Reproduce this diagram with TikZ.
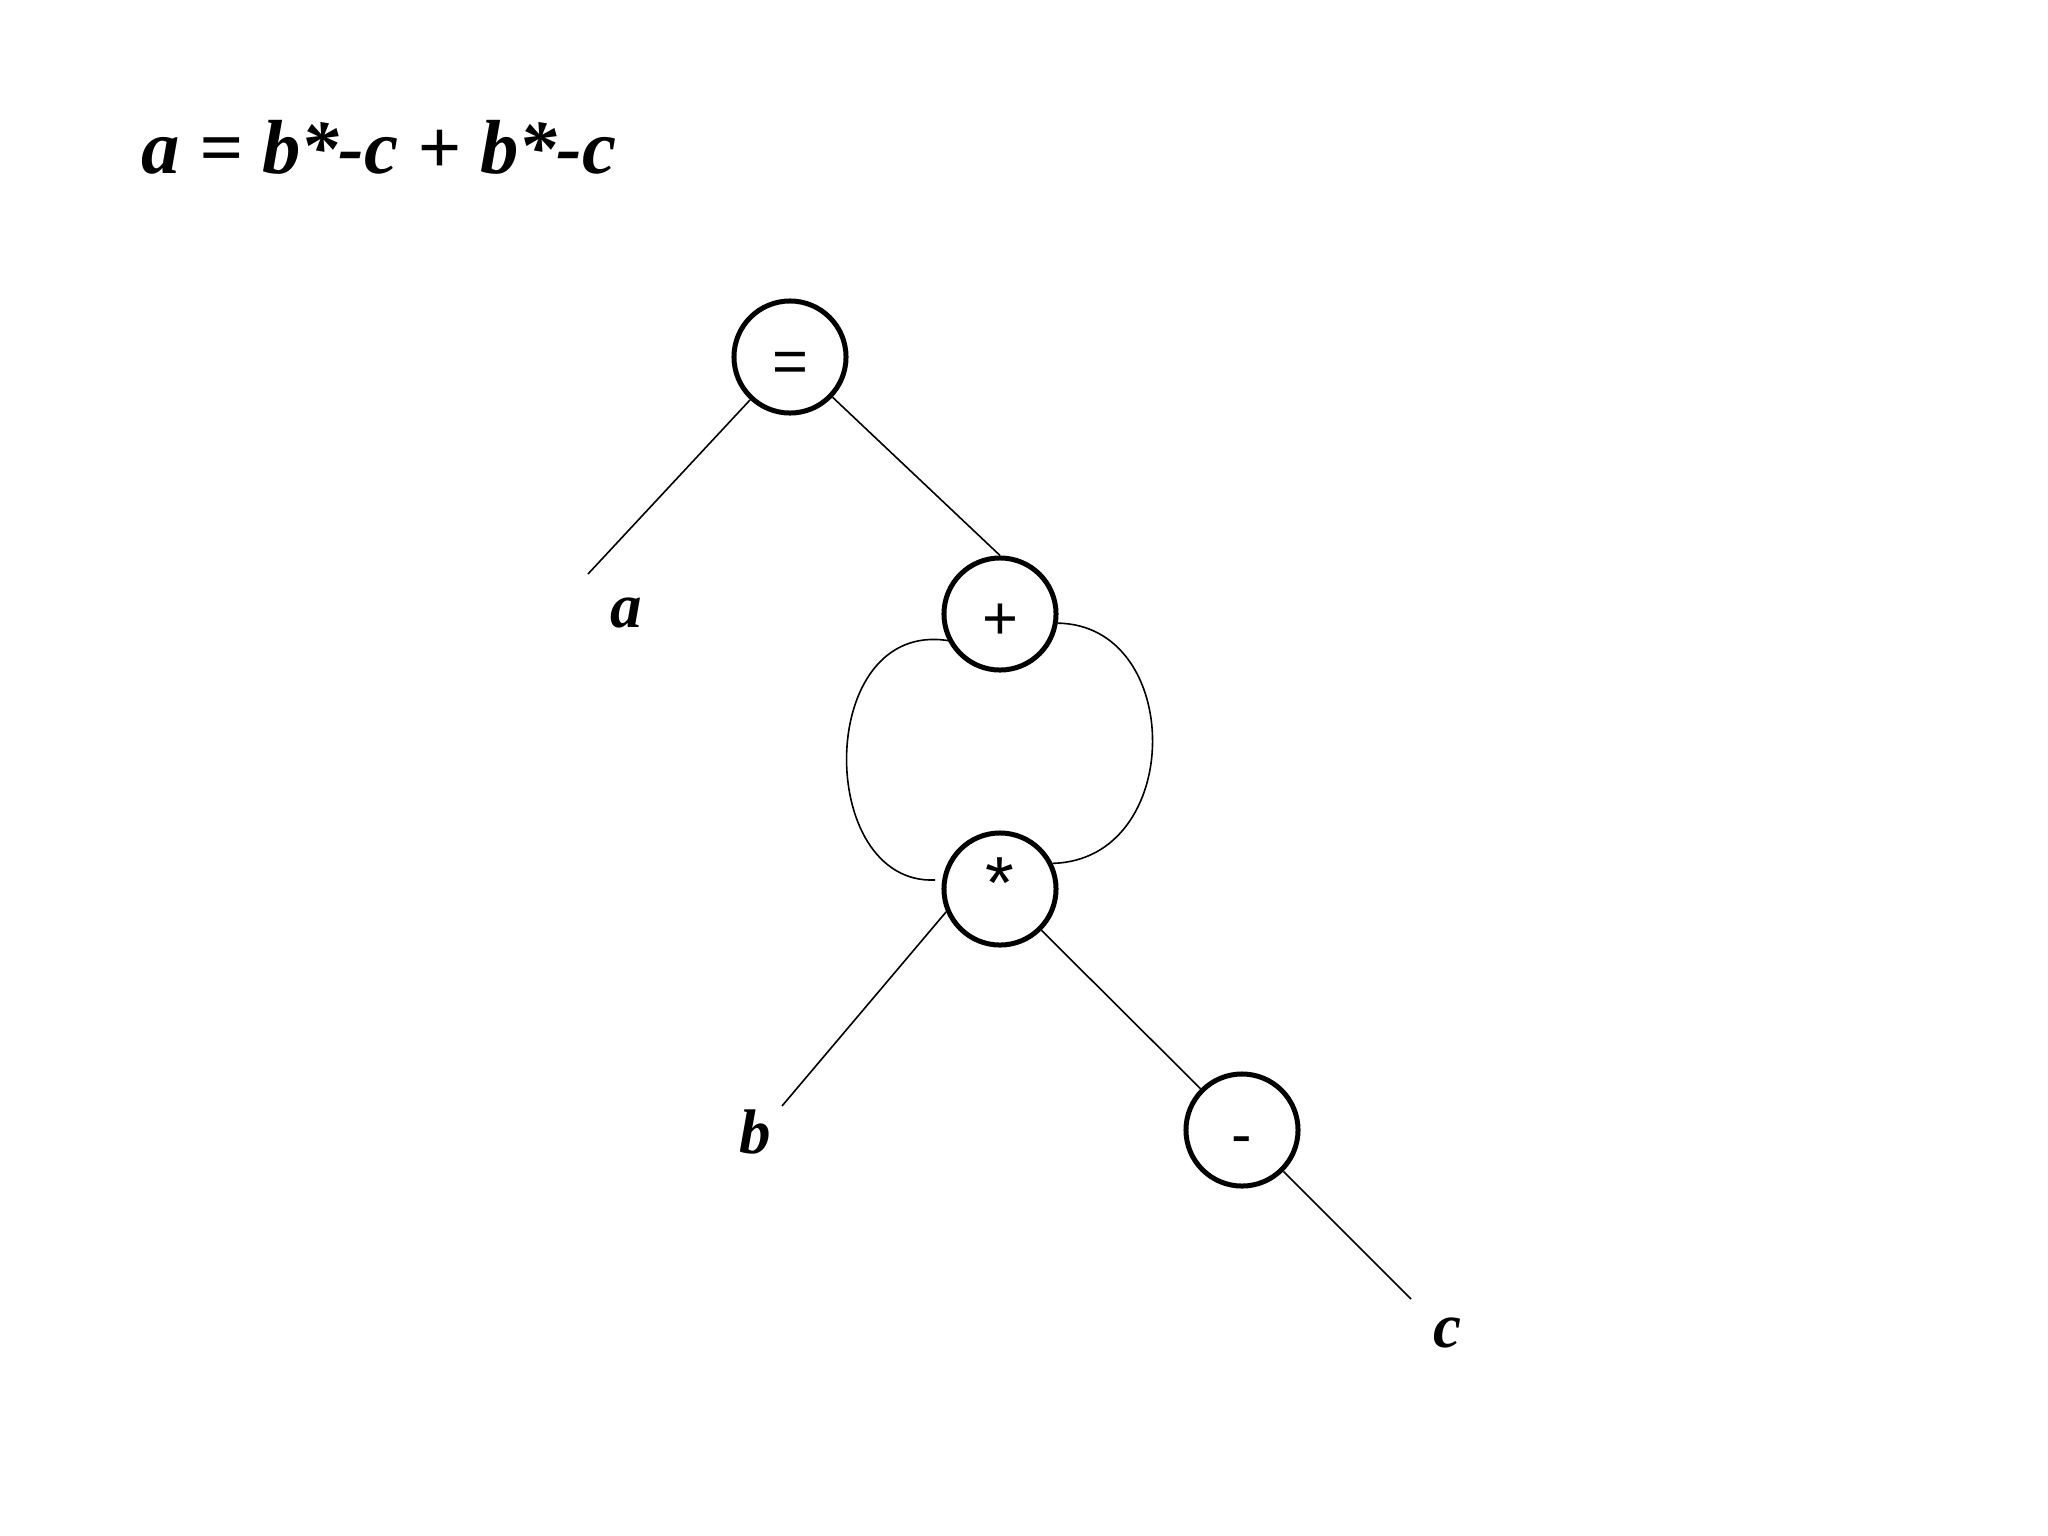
\documentclass[tikz,border=0pt]{standalone}
\usepackage{fontspec}
\setmainfont{Liberation Serif}
\newfontfamily\opfont{Liberation Sans}
\begin{document}
\begin{tikzpicture}[x=0.01cm,y=-0.01cm,
  opnode/.style={circle,draw,line width=0.05cm,minimum size=1.12cm,inner sep=0pt,
    font=\opfont\fontsize{17.5}{20}\selectfont,text height=0.50cm,text depth=0pt},
  leaf/.style={inner sep=0pt,anchor=base,font=\bfseries\itshape\fontsize{17.9}{21}\selectfont},
  edge/.style={line width=0.016cm}]
\useasboundingbox[fill=white] (0,0) rectangle (2048,1536);
\node[inner sep=0pt,anchor=base west,font=\bfseries\itshape\fontsize{21.8}{25}\selectfont] (title) at (141,173) {a = b*-c + b*-c};
\node[opnode] (eq) at (790,357) {=};
\node[opnode] (plus) at (1000,614) {+};
\node[opnode,font=\opfont\fontsize{21}{24}\selectfont,text height=0.38cm] (star) at (1000,889) {*};
\node[opnode] (minus) at (1242,1130) {-};
\node[leaf] (la) at (626,627) {a};
\node[leaf] (lb) at (755,1153) {b};
\node[leaf] (lc) at (1447,1347) {c};
\coordinate (ca) at (588,574);
\coordinate (cb) at (782,1106);
\coordinate (cc) at (1411,1299);
\coordinate (lend) at (935,880);
\draw[edge] (eq) -- (ca);
\draw[edge] (eq) -- (plus.north);
\draw[edge] (star.203) -- (cb);
\draw[edge] (star) -- (minus);
\draw[edge] (minus) -- (cc);
\draw[edge] (plus.207) .. controls (815,620) and (815,885) .. (lend);
\draw[edge] (plus.-9) .. controls (1185,625) and (1185,860) .. (star.26);
\end{tikzpicture}
\end{document}
